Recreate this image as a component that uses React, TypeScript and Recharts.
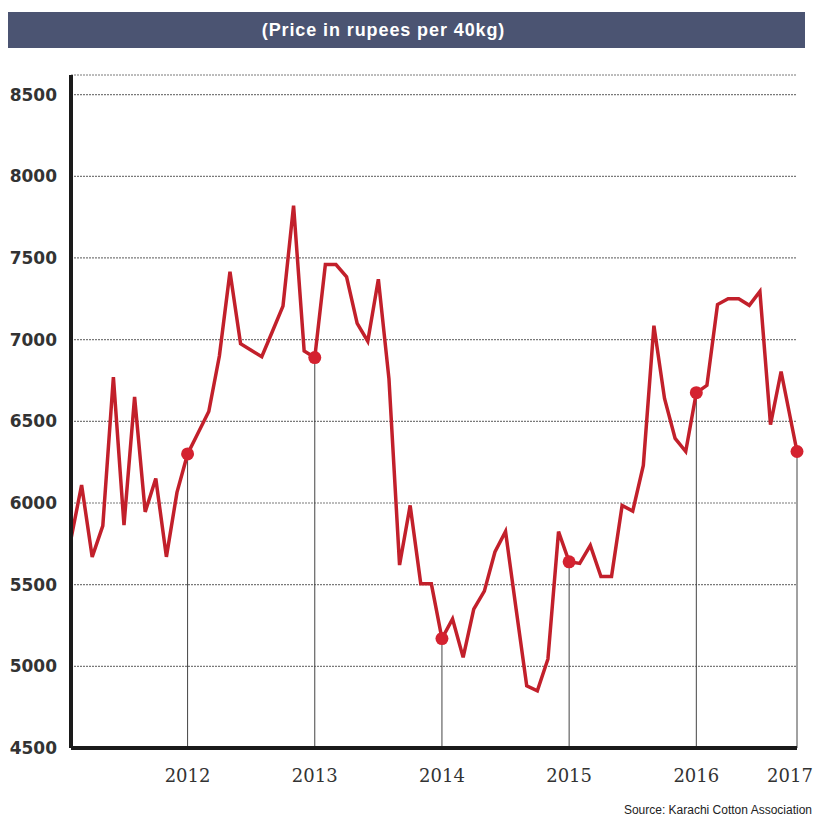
import React from "react";
import {
  LineChart,
  Line,
  XAxis,
  YAxis,
  CartesianGrid,
  ReferenceLine,
} from "recharts";

// monthly cotton price, rupees per 40kg
const prices = [
  5780, 6110, 5670, 5860, 6770, 5865, 6650, 5945, 6150, 5670, 6065, 6300,
  6430, 6560, 6900, 7415, 6975, 6935, 6895, 7050, 7205, 7820, 6930, 6890,
  7460, 7460, 7385, 7100, 6990, 7370, 6760, 5620, 5985, 5505, 5505, 5170,
  5290, 5055, 5350, 5460, 5700, 5825, 5350, 4880, 4850, 5045, 5825, 5640,
  5630, 5740, 5550, 5550, 5985, 5950, 6230, 7085, 6640, 6395, 6315, 6675,
  6720, 7215, 7250, 7250, 7210, 7295, 6480, 6805, 6315,
];

// month position of each point; last reading sits a little further out
const lastPosition = 68.5;

const years = ["2012", "2013", "2014", "2015", "2016", "2017"];
const yearPositions = [11, 23, 35, 47, 59, lastPosition];
const priceTicks = [4500, 5000, 5500, 6000, 6500, 7000, 7500, 8000, 8500];

const data = prices.map((price, i) => {
  const t = i === prices.length - 1 ? lastPosition : i;
  return { t, price, marker: yearPositions.includes(t) };
});

const markers = data.filter((d) => d.marker);

const RED = "#c2202b";

const MarkerDot = (props: any) => {
  const { cx, cy, payload, index } = props;
  if (!payload.marker) return <g key={index} />;
  return <circle key={index} cx={cx} cy={cy} r={6.5} fill="#d42230" />;
};

// year labels; the last one is pulled in so it stays on the page
const YearTick = (props: any) => {
  const { x, y, payload } = props;
  const isLast = payload.value === lastPosition;
  return (
    <text
      x={isLast ? Math.min(x, 812 - 22) : x}
      y={y}
      dy={14}
      textAnchor="middle"
      fill="#333"
      fontSize={18}
      fontFamily="'DejaVu Serif', 'Liberation Serif', serif"
    >
      {years[yearPositions.indexOf(payload.value)]}
    </text>
  );
};

export default function App() {
  return (
    <div
      style={{
        position: "absolute",
        left: 0,
        top: 0,
        width: 814,
        height: 817,
        background: "#fff",
        overflow: "hidden",
      }}
    >
      {/* title bar */}
      <div
        style={{
          position: "absolute",
          left: 8,
          top: 12,
          width: 797,
          height: 36,
          background: "#4b5472",
          color: "#fff",
          fontFamily: "'Liberation Sans', Arial, sans-serif",
          fontWeight: "bold",
          fontSize: 18,
          letterSpacing: 0.9,
          lineHeight: "36px",
          textAlign: "center",
          paddingRight: 46,
          boxSizing: "border-box",
        }}
      >
        (Price in rupees per 40kg)
      </div>

      <LineChart
        width={814}
        height={817}
        data={data}
        margin={{ top: 75, right: 17, bottom: 0, left: 11 }}
      >
        <CartesianGrid
          horizontal
          vertical={false}
          stroke="#7a7a7a"
          strokeDasharray="2 1"
          strokeWidth={1.2}
        />
        <XAxis
          type="number"
          dataKey="t"
          domain={[0, lastPosition]}
          ticks={yearPositions}
          axisLine={{ stroke: "#1a1a1a", strokeWidth: 4 }}
          tickLine={false}
          tickSize={0}
          tickMargin={20}
          height={69}
          tick={<YearTick />}
        />
        <YAxis
          type="number"
          domain={[4500, 8620]}
          ticks={priceTicks}
          allowDataOverflow
          width={60}
          axisLine={{ stroke: "#1a1a1a", strokeWidth: 4 }}
          tickLine={false}
          tickSize={0}
          tickMargin={14}
          tick={{
            fill: "#333",
            fontSize: 17,
            fontWeight: "bold",
            fontFamily: "'DejaVu Sans', sans-serif",
          }}
        />
        {markers.map((m) => (
          <ReferenceLine
            key={m.t}
            segment={[
              { x: m.t, y: m.price },
              { x: m.t, y: 4500 },
            ]}
            stroke="#444"
            strokeWidth={1}
          />
        ))}
        <Line
          type="linear"
          dataKey="price"
          stroke={RED}
          strokeWidth={3.5}
          strokeLinejoin="miter"
          dot={<MarkerDot />}
          activeDot={false}
          isAnimationActive={false}
        />
      </LineChart>

      {/* source note */}
      <div
        style={{
          position: "absolute",
          right: 2,
          top: 803,
          whiteSpace: "nowrap",
          fontFamily: "'Liberation Sans', Arial, sans-serif",
          fontSize: 12,
          color: "#222",
        }}
      >
        Source: Karachi Cotton Association
      </div>
    </div>
  );
}
